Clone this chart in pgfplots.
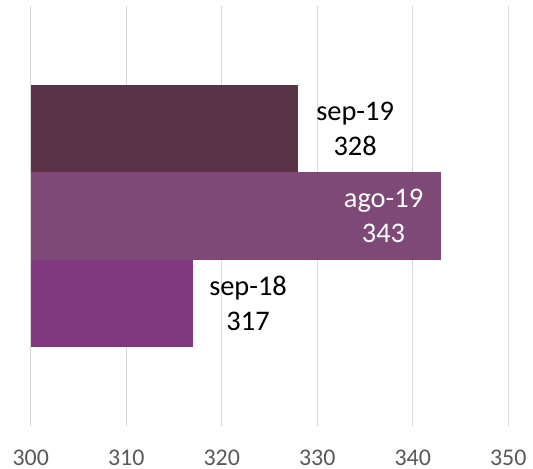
\documentclass[border=0pt]{standalone}
\usepackage{fontspec}
\setmainfont{Carlito}
\usepackage{pgfplots}
\pgfplotsset{compat=1.18}
\definecolor{cSepA}{RGB}{90,52,70}
\definecolor{cAgo}{RGB}{126,73,118}
\definecolor{cSepB}{RGB}{128,56,126}
\definecolor{gridgray}{RGB}{217,217,217}
\definecolor{ticktext}{RGB}{89,89,89}
\begin{document}
\begin{tikzpicture}
\begin{axis}[
  name=ax,
  xbar, scale only axis, width=477.5bp, height=420bp,
  xmin=300, xmax=350, ymin=-2.408, ymax=2.408,
  xtick={300,310,320,330,340,350}, ytick=\empty,
  xmajorgrids, major grid style={draw=gridgray, line width=1.4bp},
  axis line style={draw=none},
  major tick length=0pt,
  /pgf/number format/assume math mode=true,
  xticklabel style={font=\fontsize{24}{29}\selectfont, text=ticktext, anchor=base, inner sep=0pt, yshift=-39bp},
  bar width=1, bar shift=0pt,
  point meta=x,
  nodes near coords style={font=\fontsize{28.5}{34.8}\selectfont, align=center, inner sep=0pt},
]
\addplot[fill=cSepA, draw=none,
  nodes near coords={sep-19\\\pgfmathprintnumber{\pgfplotspointmeta}},
  nodes near coords style={anchor=west, xshift=18bp, text=black}]
  coordinates {(328,1)};
\addplot[fill=cAgo, draw=none,
  nodes near coords={ago-19\\\pgfmathprintnumber{\pgfplotspointmeta}},
  nodes near coords style={anchor=east, xshift=-18bp, text=white}]
  coordinates {(343,0)};
\addplot[fill=cSepB, draw=none,
  nodes near coords={sep-18\\\pgfmathprintnumber{\pgfplotspointmeta}},
  nodes near coords style={anchor=west, xshift=16bp, text=black}]
  coordinates {(317,-1)};
\end{axis}
\path ([xshift=-30.7bp,yshift=6bp]ax.north west) rectangle ([xshift=24.8bp,yshift=-43bp]ax.south east);
\end{tikzpicture}
\end{document}
